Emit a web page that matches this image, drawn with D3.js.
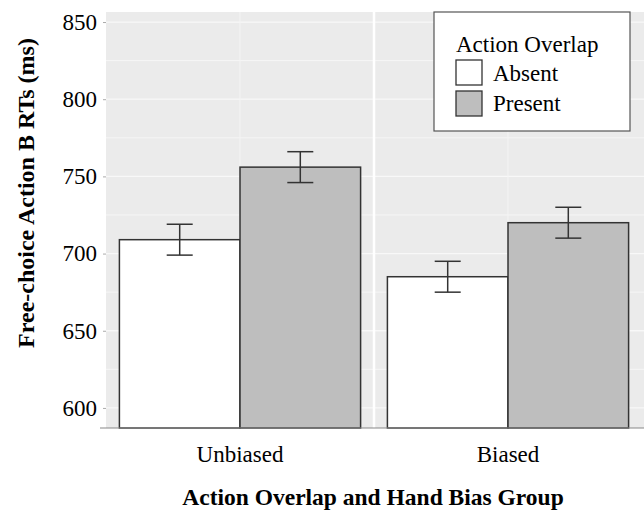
<!DOCTYPE html>
<html>
<head>
<meta charset="utf-8">
<script src="https://cdn.jsdelivr.net/npm/d3@7"></script>
<style>
  body { margin: 0; background: #fff; }
  svg { display: block; }
  text { font-family: "Liberation Serif", "Times New Roman", serif; fill: #000; }
</style>
</head>
<body>
<div id="chart"></div>
<script>
const groups = ["Unbiased", "Biased"];
const conditions = ["Absent", "Present"];
const absentValues = [709, 685];
const presentValues = [756, 720];
const absentErrors = [10, 10];
const presentErrors = [10, 10];
const yTicks = [600, 650, 700, 750, 800, 850];
const yMinorTicks = [625, 675, 725, 775, 825];
const fills = ["#ffffff", "#bebebe"];

const W = 644, H = 511;
const panel = { left: 106, right: 642, top: 12, bottom: 428 };

const svg = d3.select("#chart").append("svg").attr("width", W).attr("height", H);

const x = d3.scaleBand().domain(groups).range([panel.left, panel.right]).paddingInner(0).paddingOuter(0);
const xSub = d3.scaleBand().domain(conditions).range([0, x.bandwidth() * 0.9]);
const y = d3.scaleLinear().domain([587, 856.5]).range([panel.bottom, panel.top]);

// panel background
svg.append("rect").attr("x", panel.left).attr("y", panel.top)
  .attr("width", W - panel.left).attr("height", panel.bottom - panel.top)
  .attr("fill", "#ebebeb");

// horizontal grid
svg.selectAll(".hminor").data(yMinorTicks).enter().append("line")
  .attr("x1", panel.left).attr("x2", W).attr("y1", d => y(d)).attr("y2", d => y(d))
  .attr("stroke", "#f6f6f6").attr("stroke-width", 1);
svg.selectAll(".hmajor").data(yTicks).enter().append("line")
  .attr("x1", panel.left).attr("x2", W).attr("y1", d => y(d)).attr("y2", d => y(d))
  .attr("stroke", "#f8f8f8").attr("stroke-width", 1.3);

// vertical grid
svg.selectAll(".vmajor").data(groups).enter().append("line")
  .attr("x1", d => x(d) + x.bandwidth() / 2).attr("x2", d => x(d) + x.bandwidth() / 2)
  .attr("y1", panel.top).attr("y2", panel.bottom)
  .attr("stroke", "#f4f4f4").attr("stroke-width", 1);
svg.append("line")
  .attr("x1", x("Biased")).attr("x2", x("Biased"))
  .attr("y1", panel.top).attr("y2", panel.bottom)
  .attr("stroke", "#ffffff").attr("stroke-width", 2.5);

// bars
const rows = [];
groups.forEach((g, i) => {
  rows.push({ g, c: "Absent", v: absentValues[i], e: absentErrors[i], fill: fills[0] });
  rows.push({ g, c: "Present", v: presentValues[i], e: presentErrors[i], fill: fills[1] });
});
const off = x.bandwidth() * 0.05;
svg.selectAll(".bar").data(rows).enter().append("rect")
  .attr("x", d => x(d.g) + off + xSub(d.c))
  .attr("y", d => y(d.v))
  .attr("width", xSub.bandwidth())
  .attr("height", d => panel.bottom - y(d.v))
  .attr("fill", d => d.fill)
  .attr("stroke", "#333").attr("stroke-width", 1.5);

// error bars
const cap = 13;
const cx = d => x(d.g) + off + xSub(d.c) + xSub.bandwidth() / 2;
const eb = svg.selectAll(".eb").data(rows).enter().append("g")
  .attr("stroke", "#333").attr("stroke-width", 1.5);
eb.append("line")
  .attr("x1", cx).attr("x2", cx)
  .attr("y1", d => y(d.v - d.e)).attr("y2", d => y(d.v + d.e));
eb.append("line")
  .attr("x1", d => cx(d) - cap).attr("x2", d => cx(d) + cap)
  .attr("y1", d => y(d.v + d.e)).attr("y2", d => y(d.v + d.e));
eb.append("line")
  .attr("x1", d => cx(d) - cap).attr("x2", d => cx(d) + cap)
  .attr("y1", d => y(d.v - d.e)).attr("y2", d => y(d.v - d.e));

// x axis line
svg.append("line").attr("x1", 100).attr("x2", W).attr("y1", panel.bottom).attr("y2", panel.bottom)
  .attr("stroke", "#888").attr("stroke-width", 1.2);

// y axis ticks + labels
const yAxis = d3.axisLeft(y).tickValues(yTicks).tickSize(3).tickPadding(6);
const ya = svg.append("g").attr("transform", `translate(${panel.left},0)`).call(yAxis);
ya.select(".domain").remove();
ya.selectAll(".tick line").attr("stroke", "#aaa");
ya.selectAll(".tick text").attr("font-size", 23).attr("font-family", "Liberation Serif").attr("fill", "#000");

// x tick labels
const xAxis = d3.axisBottom(x).tickSize(0).tickPadding(18);
const xa = svg.append("g").attr("transform", `translate(0,${panel.bottom})`).call(xAxis);
xa.select(".domain").remove();
xa.selectAll(".tick text").attr("font-size", 23).attr("font-family", "Liberation Serif").attr("fill", "#000");

// axis titles
svg.append("text").attr("x", 373).attr("y", 505).attr("text-anchor", "middle")
  .attr("font-size", 23.5).attr("font-weight", "bold").text("Action Overlap and Hand Bias Group");
svg.append("text").attr("transform", "translate(34,193) rotate(-90)").attr("text-anchor", "middle")
  .attr("font-size", 24).attr("font-weight", "bold").text("Free-choice Action B RTs (ms)");

// legend
const lg = svg.append("g");
lg.append("rect").attr("x", 434).attr("y", 12).attr("width", 196).attr("height", 119)
  .attr("fill", "#fff").attr("stroke", "#555").attr("stroke-width", 1.2);
lg.append("text").attr("x", 456).attr("y", 52).attr("font-size", 23).text("Action Overlap");
conditions.forEach((c, i) => {
  lg.append("rect").attr("x", 456).attr("y", 60 + i * 31).attr("width", 26).attr("height", 25)
    .attr("fill", fills[i]).attr("stroke", "#333").attr("stroke-width", 1.3);
  lg.append("text").attr("x", 493).attr("y", 81 + i * 30).attr("font-size", 23).text(c);
});
</script>
</body>
</html>
